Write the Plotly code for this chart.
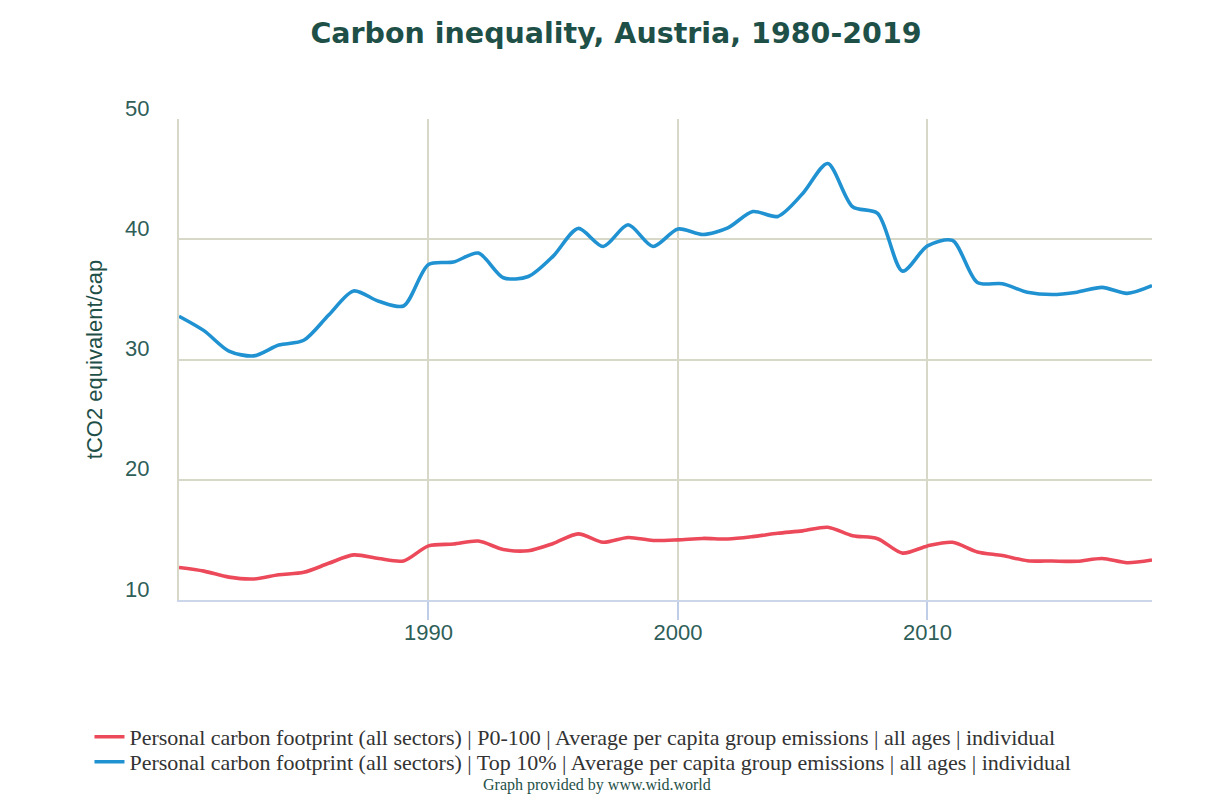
import plotly.graph_objects as go

# Jahre und Werte (tCO2 equivalent/cap)
years = list(range(1980, 2020))

p0_100 = [12.7, 12.4, 11.9, 11.75, 12.1, 12.3, 13.05, 13.75, 13.45, 13.25,
          14.5, 14.65, 14.9, 14.2, 14.1, 14.7, 15.5, 14.8, 15.2, 14.95,
          15.0, 15.12, 15.07, 15.27, 15.55, 15.75, 16.05, 15.35, 15.1, 13.9,
          14.5, 14.8, 14.0, 13.7, 13.27, 13.24, 13.22, 13.45, 13.1, 13.33]

top10 = [33.6, 32.4, 30.7, 30.3, 31.2, 31.6, 33.7, 35.7, 34.85, 34.45,
         37.9, 38.1, 38.85, 36.8, 36.9, 38.6, 40.9, 39.4, 41.2, 39.4,
         40.85, 40.4, 40.95, 42.3, 41.9, 43.8, 46.3, 42.7, 42.15, 37.35,
         39.45, 39.9, 36.4, 36.3, 35.6, 35.4, 35.6, 36.0, 35.5, 36.15]

series_names = [
    "Personal carbon footprint (all sectors) | P0-100 | Average per capita group emissions | all ages | individual",
    "Personal carbon footprint (all sectors) | Top 10% | Average per capita group emissions | all ages | individual",
]

x_ticks = [1990, 2000, 2010]
y_ticks = [10, 20, 30, 40, 50]

TEAL = "#1e5048"
GRID = "#d8d8c8"

fig = go.Figure()
fig.add_trace(go.Scatter(x=years, y=p0_100, name=series_names[0], mode="lines", legend="legend",
                         line=dict(color="#ec4a5a", width=3.6, shape="spline", smoothing=0.8)))
fig.add_trace(go.Scatter(x=years, y=top10, name=series_names[1], mode="lines", legend="legend2",
                         line=dict(color="#2092d2", width=3.6, shape="spline", smoothing=0.8)))

legend_style = dict(orientation="v", x=-0.092, xanchor="left", yanchor="middle",
                    font=dict(family="Liberation Serif", size=22, color="#333333"),
                    itemwidth=30, bgcolor="rgba(0,0,0,0)")

# Seite hat 8px body-Rand, daher Ränder entsprechend verschoben
fig.update_layout(
    width=1232, height=800,
    margin=dict(l=171, r=88, t=111, b=208),
    paper_bgcolor="white", plot_bgcolor="white",
    title=dict(text="<b>Carbon inequality, Austria, 1980-2019</b>", x=0.4935, xanchor="center",
               y=0.969, yanchor="middle",
               font=dict(family="DejaVu Sans", size=28.5, color=TEAL)),
    showlegend=True,
    legend=dict(legend_style, y=-0.2848),
    legend2=dict(legend_style, y=-0.3368),
    annotations=[dict(text="Graph provided by www.wid.world", xref="paper", yref="paper",
                      x=0.43, y=-0.384, xanchor="center", yanchor="middle", showarrow=False,
                      font=dict(family="Liberation Serif", size=16, color=TEAL))],
)

fig.update_xaxes(
    range=[1980, 2019], tickvals=x_ticks, ticktext=[str(t) for t in x_ticks],
    showgrid=True, gridcolor=GRID, gridwidth=2,
    showline=True, linecolor="#ccd6eb", linewidth=2,
    ticks="outside", ticklen=18, tickcolor="#c0cde6", tickwidth=2,
    ticklabelstandoff=-6,
    tickfont=dict(family="Liberation Sans", size=22, color="#2e5e58"),
    zeroline=False, automargin=False,
)
fig.update_yaxes(
    range=[10, 50], tickvals=y_ticks,
    showgrid=True, gridcolor=GRID, gridwidth=2,
    showline=True, linecolor=GRID, linewidth=2,
    ticks="", ticklabelstandoff=23, ticklabelshift=-11,
    tickfont=dict(family="Liberation Sans", size=22, color="#2e5e58"),
    title=dict(text="tCO2 equivalent/cap", standoff=16,
               font=dict(family="Liberation Sans", size=22, color=TEAL)),
    zeroline=False, automargin=False,
)

fig.write_html("out.html")
